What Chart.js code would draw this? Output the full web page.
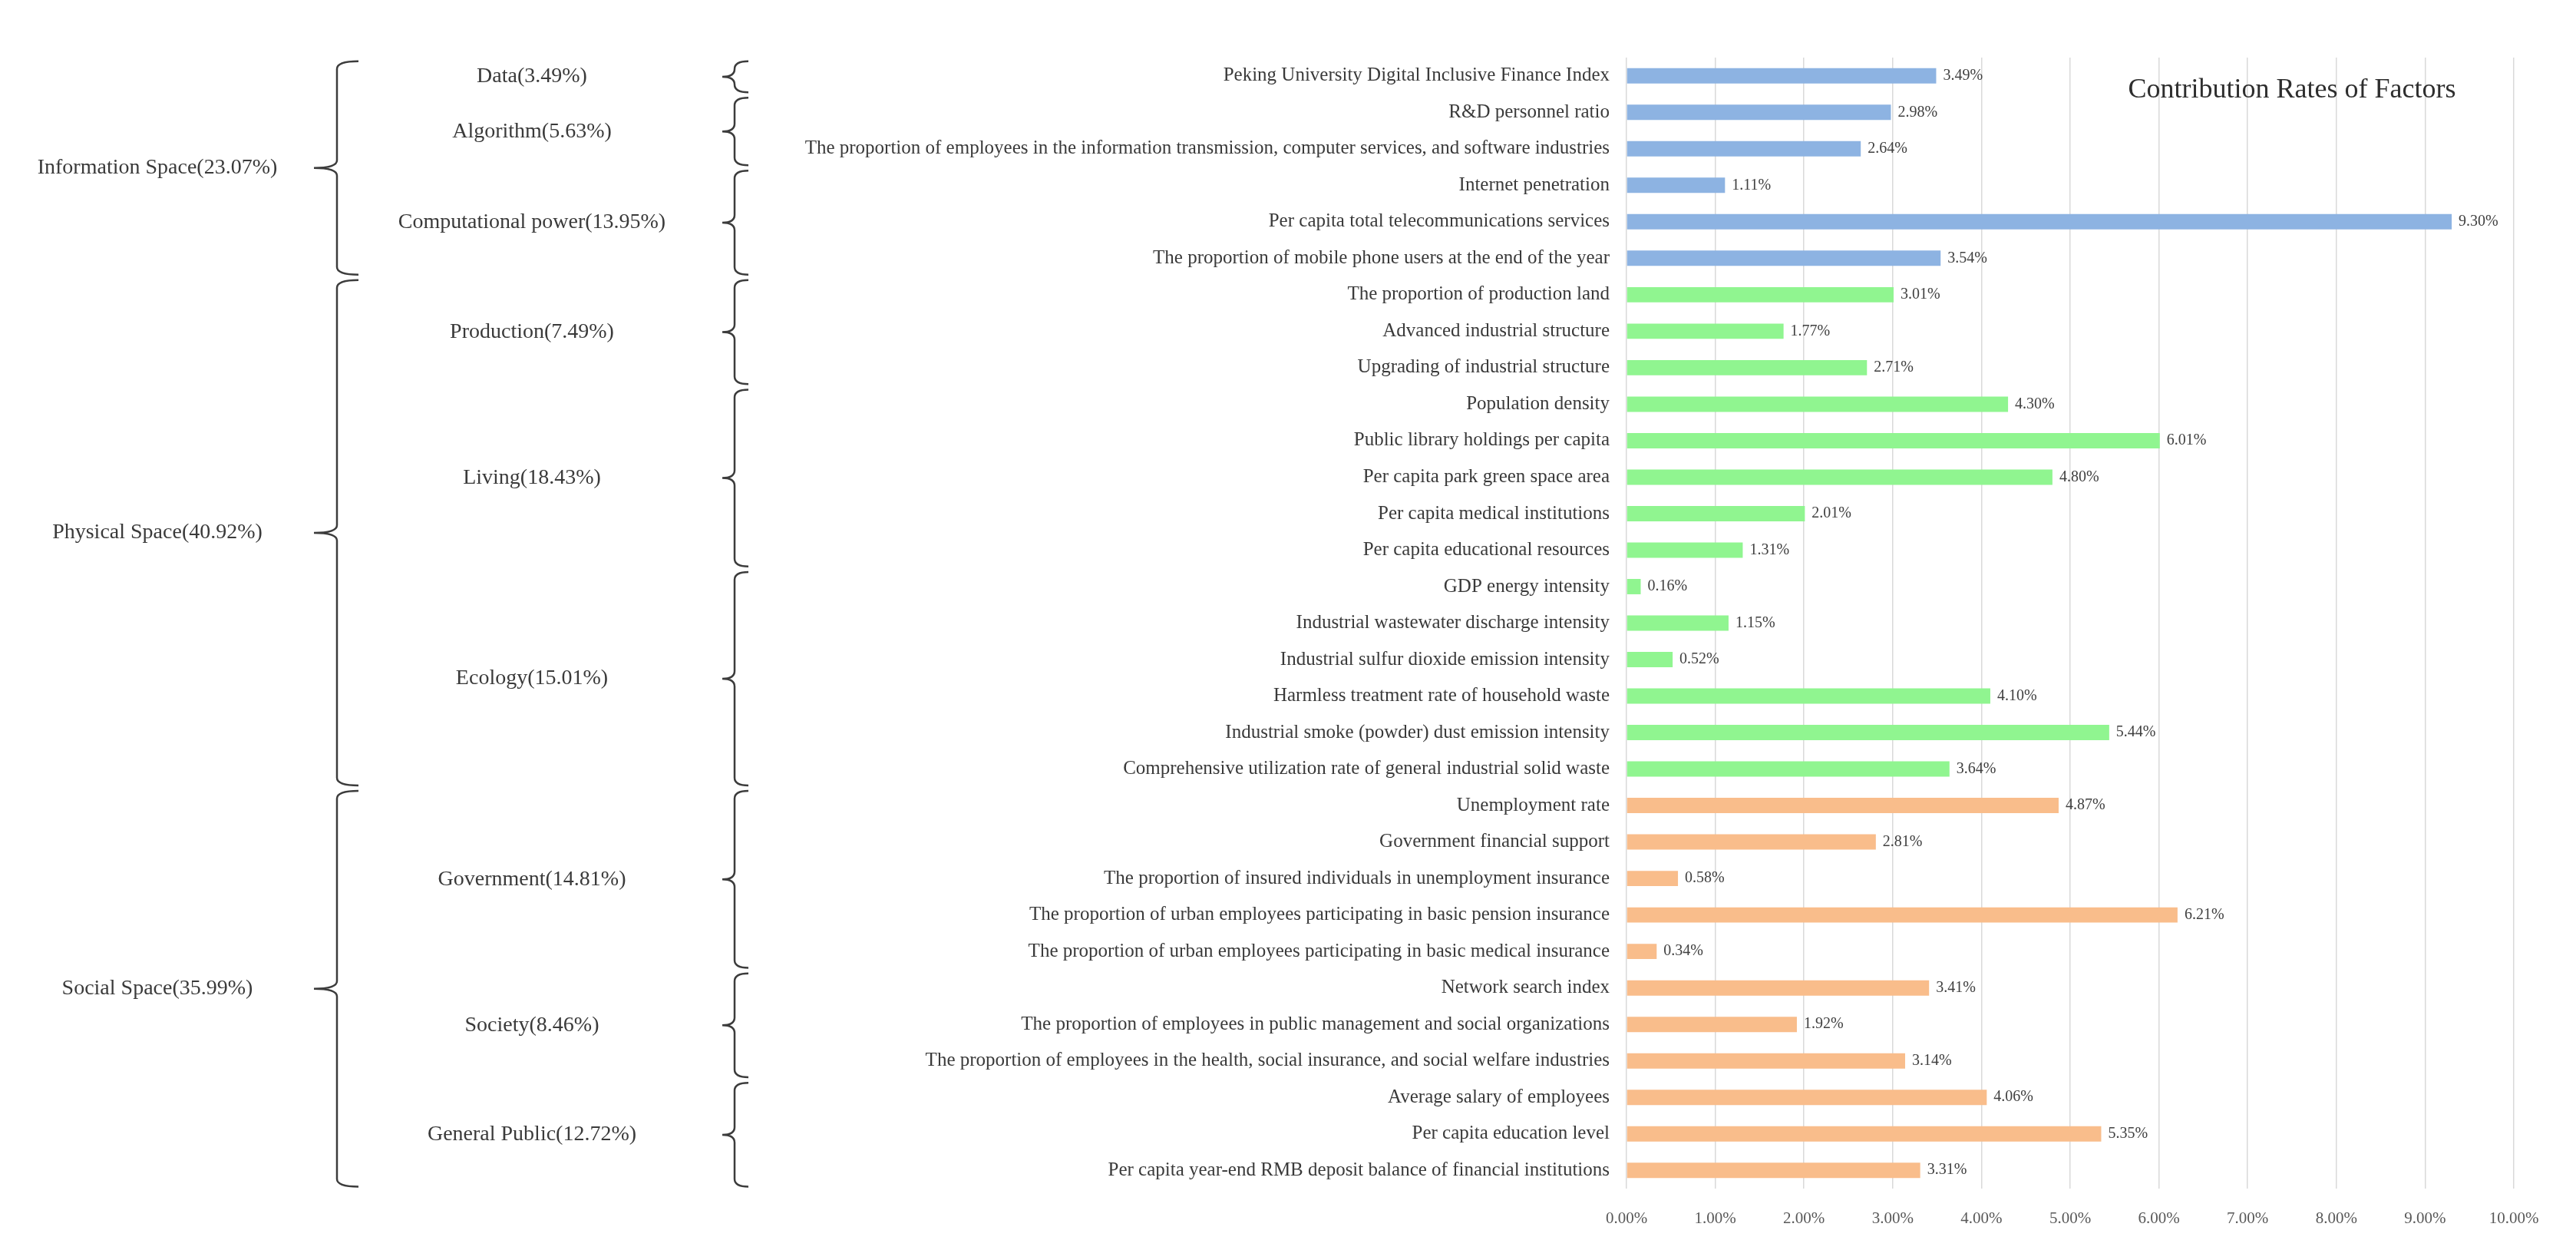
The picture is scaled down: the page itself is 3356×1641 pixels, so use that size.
<!DOCTYPE html>
<html lang="en">
<head>
    <meta charset="UTF-8">
    <title>Contribution Rates of Factors</title>
    <script src="https://cdn.jsdelivr.net/npm/chart.js"></script>
    <style>
        body { margin: 0; background: #fff; }
        #wrap { width: 3356px; height: 1641px; position: relative; }
    </style>
</head>
<body>
    <div id="wrap"><canvas id="factorChart"></canvas></div>

    <script>
        // indicator names, top to bottom
        const factors = [
            'Peking University Digital Inclusive Finance Index',
            'R&D personnel ratio',
            'The proportion of employees in the information transmission, computer services, and software industries',
            'Internet penetration',
            'Per capita total telecommunications services',
            'The proportion of mobile phone users at the end of the year',
            'The proportion of production land',
            'Advanced industrial structure',
            'Upgrading of industrial structure',
            'Population density',
            'Public library holdings per capita',
            'Per capita park green space area',
            'Per capita medical institutions',
            'Per capita educational resources',
            'GDP energy intensity',
            'Industrial wastewater discharge intensity',
            'Industrial sulfur dioxide emission intensity',
            'Harmless treatment rate of household waste',
            'Industrial smoke (powder) dust emission intensity',
            'Comprehensive utilization rate of general industrial solid waste',
            'Unemployment rate',
            'Government financial support',
            'The proportion of insured individuals in unemployment insurance',
            'The proportion of urban employees participating in basic pension insurance',
            'The proportion of urban employees participating in basic medical insurance',
            'Network search index',
            'The proportion of employees in public management and social organizations',
            'The proportion of employees in the health, social insurance, and social welfare industries',
            'Average salary of employees',
            'Per capita education level',
            'Per capita year-end RMB deposit balance of financial institutions'
        ];

        // contribution rates (%)
        const infoValues = [3.49, 2.98, 2.64, 1.11, 9.30, 3.54];
        const physicalValues = [3.01, 1.77, 2.71, 4.30, 6.01, 4.80, 2.01, 1.31, 0.16, 1.15, 0.52, 4.10, 5.44, 3.64];
        const socialValues = [4.87, 2.81, 0.58, 6.21, 0.34, 3.41, 1.92, 3.14, 4.06, 5.35, 3.31];

        // grouping (first level and second level)
        const spaceNames = ['Information Space(23.07%)', 'Physical Space(40.92%)', 'Social Space(35.99%)'];
        const spaceCounts = [6, 14, 11];
        const dimensionNames = ['Data(3.49%)', 'Algorithm(5.63%)', 'Computational power(13.95%)',
            'Production(7.49%)', 'Living(18.43%)', 'Ecology(15.01%)',
            'Government(14.81%)', 'Society(8.46%)', 'General Public(12.72%)'];
        const dimensionCounts = [1, 2, 3, 3, 5, 6, 5, 3, 3];

        const xTicks = [0, 1, 2, 3, 4, 5, 6, 7, 8, 9, 10];
        const spaceColors = ['#8db3e2', '#90f590', '#f9bd8b'];

        const values = infoValues.concat(physicalValues, socialValues);
        const barColors = [];
        spaceCounts.forEach((n, i) => { for (let k = 0; k < n; k++) barColors.push(spaceColors[i]); });

        const FONT = "'Liberation Serif', 'DejaVu Serif', serif";
        Chart.defaults.font.family = FONT;

        function drawBrace(ctx, x, top, bottom, arm, tip) {
            const mid = (top + bottom) / 2;
            const r = Math.min(10, (bottom - top) / 4);
            ctx.beginPath();
            ctx.moveTo(x + arm, top);
            ctx.quadraticCurveTo(x, top, x, top + r);
            ctx.lineTo(x, mid - r);
            ctx.quadraticCurveTo(x, mid, x - tip, mid);
            ctx.quadraticCurveTo(x, mid, x, mid + r);
            ctx.lineTo(x, bottom - r);
            ctx.quadraticCurveTo(x, bottom, x + arm, bottom);
            ctx.stroke();
        }

        // brackets + group names on the left side
        const bracketPlugin = {
            id: 'brackets',
            afterDraw(chart) {
                const ctx = chart.ctx;
                const y = chart.scales.y;
                const band = y.height / factors.length;
                ctx.save();
                ctx.strokeStyle = '#3c3c3c';
                ctx.lineWidth = 2.5;
                ctx.fillStyle = '#3a3a3a';
                ctx.textAlign = 'center';
                ctx.textBaseline = 'middle';

                function groups(counts, names, braceX, arm, tip, labelX, font) {
                    let start = 0;
                    counts.forEach((n, i) => {
                        const top = y.getPixelForValue(start) - band * 0.4;
                        const bottom = y.getPixelForValue(start + n - 1) + band * 0.45;
                        drawBrace(ctx, braceX, top, bottom, arm, tip);
                        ctx.font = font;
                        ctx.fillText(names[i], labelX, (top + bottom) / 2);
                        start += n;
                    });
                }
                groups(spaceCounts, spaceNames, 439, 28, 30, 205, '28px ' + FONT);
                groups(dimensionCounts, dimensionNames, 957, 18, 16, 693, '28px ' + FONT);

                // title
                ctx.font = '36px ' + FONT;
                ctx.fillStyle = '#2e2e2e';
                ctx.fillText('Contribution Rates of Factors', 2986, 118);
                ctx.restore();
            }
        };

        // value labels at bar ends
        const valueLabelPlugin = {
            id: 'valueLabels',
            afterDatasetsDraw(chart) {
                const ctx = chart.ctx;
                const meta = chart.getDatasetMeta(0);
                ctx.save();
                ctx.font = '20px ' + FONT;
                ctx.fillStyle = '#404040';
                ctx.textAlign = 'left';
                ctx.textBaseline = 'middle';
                meta.data.forEach((bar, i) => {
                    ctx.fillText(values[i].toFixed(2) + '%', bar.x + 9, bar.y);
                });
                ctx.restore();
            }
        };

        new Chart(document.getElementById('factorChart'), {
            type: 'bar',
            data: {
                labels: factors,
                datasets: [{
                    data: values,
                    backgroundColor: barColors,
                    borderWidth: 0,
                    categoryPercentage: 1,
                    barPercentage: 0.42
                }]
            },
            options: {
                indexAxis: 'y',
                responsive: true,
                maintainAspectRatio: false,
                animation: false,
                layout: { padding: { top: 75, right: 81, left: 0, bottom: 0 } },
                plugins: {
                    legend: { display: false },
                    title: { display: false },
                    tooltip: { enabled: false }
                },
                scales: {
                    x: {
                        min: 0,
                        max: 10,
                        afterBuildTicks: (scale) => { scale.ticks = xTicks.map(v => ({ value: v })); },
                        afterFit: (scale) => { scale.height = 93; },
                        grid: { color: '#d9d9d9', lineWidth: 1.5, drawTicks: false },
                        border: { display: false },
                        ticks: {
                            padding: 27,
                            color: '#595959',
                            font: { size: 21 },
                            callback: (v) => Number(v).toFixed(2) + '%'
                        }
                    },
                    y: {
                        afterFit: (scale) => { scale.width = 2119; },
                        grid: { display: false, drawTicks: false },
                        border: { display: false },
                        ticks: {
                            padding: 22,
                            color: '#3a3a3a',
                            font: { size: 25 },
                            autoSkip: false
                        }
                    }
                }
            },
            plugins: [bracketPlugin, valueLabelPlugin]
        });
    </script>
</body>
</html>
